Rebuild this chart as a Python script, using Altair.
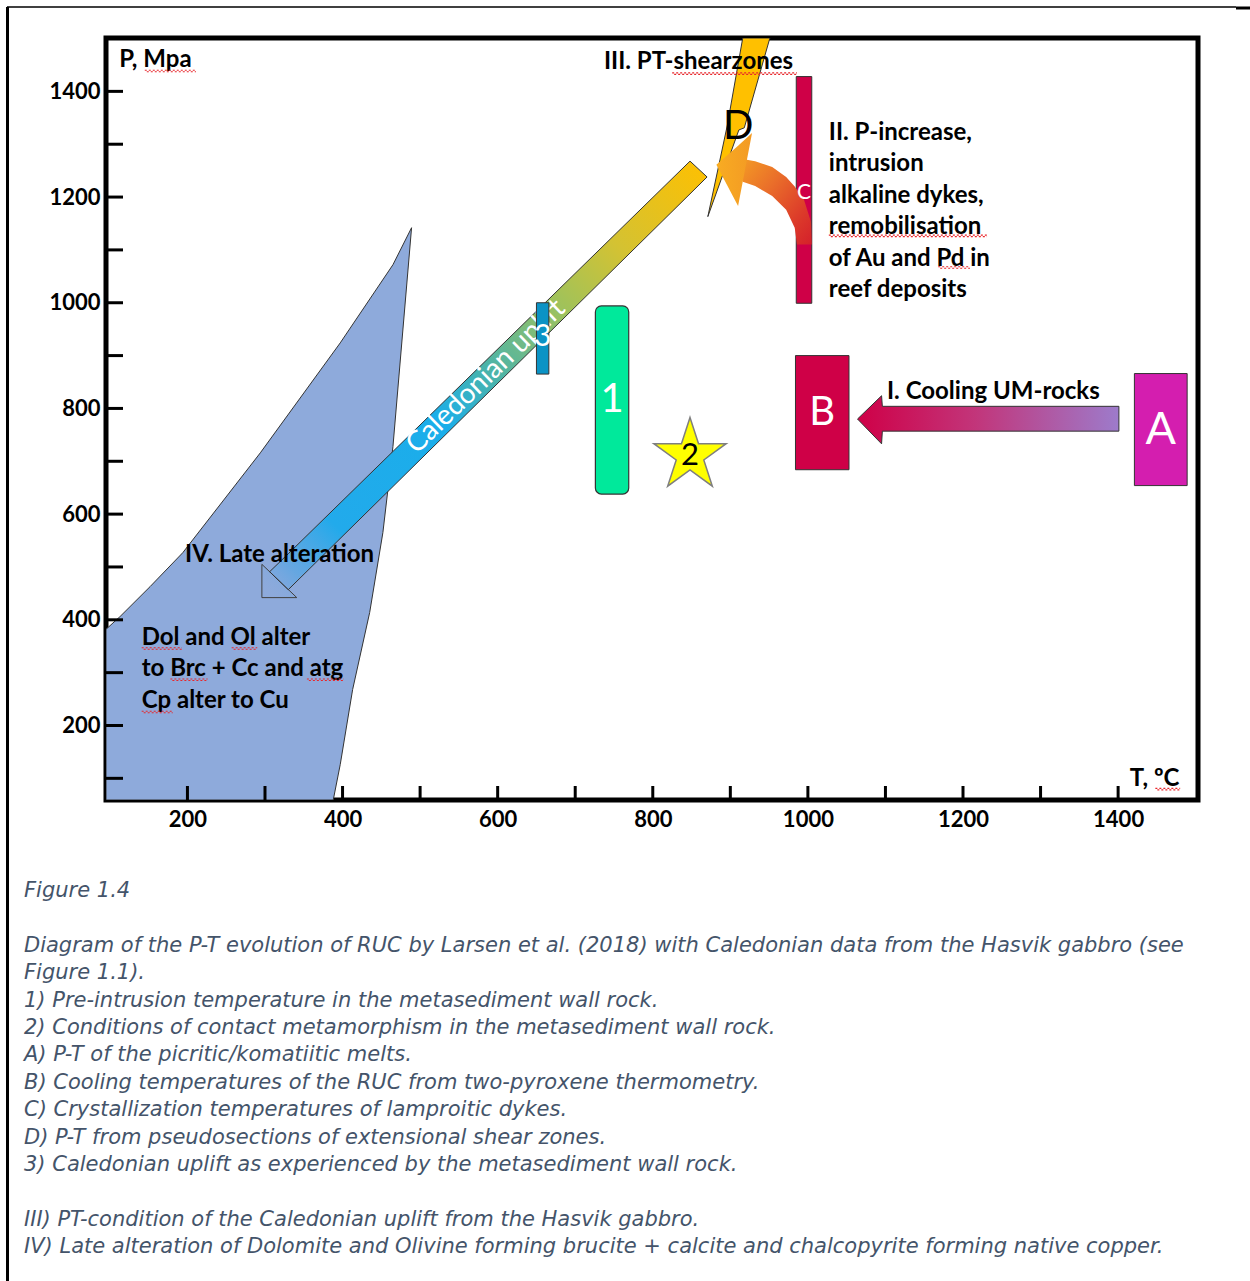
import altair as alt
import pandas as pd

# ---- axes: temperature (degC) and pressure (MPa) ----
T_DOMAIN = [95, 1503]
P_DOMAIN = [59, 1501]
T_TICKS = list(range(200, 1401, 100))
P_TICKS = list(range(100, 1401, 100))
T_LABELS = list(range(200, 1401, 200))
P_LABELS = list(range(200, 1401, 200))

# ---- IV: late alteration field (outline) ----
alter_T = [489, 465, 397, 294, 194, 152, 113, 95, 95, 388, 397, 413, 435, 452, 465, 489]
alter_P = [1142, 1072, 924, 716, 527, 463, 406, 382, 59, 59, 126, 268, 414, 565, 728, 1142]

# ---- 3: Caledonian uplift arrow: shaft (T, lower P, upper P) and head ----
shaft_T = [306, 330, 848, 870]
shaft_lo = [491, 457, 1206, 1238]
shaft_hi = [491, 525, 1268, 1238]
head_T = [296, 341]
head_lo = [442, 442]
head_hi = [505, 442]

# ---- I: cooling arrow from A to B ----
cool_T = [1064, 1095, 1096, 1401]
cool_lo = [780, 733, 757, 757]
cool_hi = [780, 824, 804, 804]

# ---- II: pressure-increase arrow rising off C: body and head ----
rise_T = [916, 932, 954, 972, 983, 986, 995, 1004, 1005]
rise_lo = [1229, 1221, 1202, 1176, 1142, 1110, 1110, 1110, 1110]
rise_hi = [1272, 1268, 1257, 1238, 1220, 1214, 1195, 1153, 1110]
rhead_T = [882, 910, 928]
rhead_lo = [1261, 1183, 1321]
rhead_hi = [1261, 1297, 1321]

# ---- III: shear-zone bolt D (outline) ----
bolt_T = [916, 951, 918, 911, 871, 896, 916]
bolt_P = [1501, 1501, 1331, 1327, 1163, 1335, 1501]

# ---- boxes ----
box_T1 = [650, 984, 1421, 985]
box_T2 = [666, 1053, 1489, 1005]
box_P1 = [865, 684, 654, 999]
box_P2 = [1000, 900, 866, 1428]
box_colors = ["#0B93C5", "#CF0047", "#D41EAF", "#CF0047"]

box1_T = [726, 769]
box1_P = [638, 994]

star_T = [848]
star_P = [711]
# five-pointed star symbol in the unit box
STAR_PATH = ("M0,-1L0.2245,-0.309L0.9511,-0.309L0.3633,0.118L0.5878,0.809L0,0.382"
             "L-0.5878,0.809L-0.3633,0.118L-0.9511,-0.309L-0.2245,-0.309Z")

# ---- letters in the boxes ----
tag_text = ["3", "1", "B", "A", "C", "D", "2"]
tag_T = [658, 747.5, 1018.5, 1455, 995, 910, 848]
tag_P = [936, 816, 792, 760, 1208, 1333, 710]
tag_size = [30, 40, 40, 45, 21, 40, 31]
tag_color = ["white", "white", "white", "white", "white", "black", "black"]

# ---- bold annotations ----
note_text = [
    "P, Mpa",
    "III. PT-shearzones",
    "II. P-increase,\nintrusion\nalkaline dykes,\nremobilisation\nof Au and Pd in\nreef deposits",
    "IV. Late alteration",
    "Dol and Ol alter\nto Brc + Cc and atg\nCp alter to Cu",
    "T, \u00baC",
    "I. Cooling UM-rocks",
]
note_T = [112, 737, 1027, 197, 141, 1415, 1102]
note_P = [1447, 1442, 1308, 510, 353, 85, 817]

# wavy spell-check underlines under some words (Mpa, shearzones, remobilisation,
# Pd, Dol, Ol, Brc, atg, Cp, ºC)
wavy_T1 = [145, 825, 1027, 1168, 141, 257, 178, 354, 141, 1448]
wavy_T2 = [211, 986, 1231, 1209, 193, 290, 226, 401, 181, 1480]
wavy_P = [1440, 1435, 1128, 1068, 347, 347, 288, 288, 227, 81]

uplift_label = ["Caledonian uplift"]
uplift_label_T = [585]
uplift_label_P = [860]

caption_head = ["Figure 1.4"]
caption_body = [
    "Diagram of the P-T evolution of RUC by Larsen et al. (2018) with Caledonian data from the Hasvik gabbro (see",
    "Figure 1.1).",
    "1) Pre-intrusion temperature in the metasediment wall rock.",
    "2) Conditions of contact metamorphism in the metasediment wall rock.",
    "A) P-T of the picritic/komatiitic melts.",
    "B) Cooling temperatures of the RUC from two-pyroxene thermometry.",
    "C) Crystallization temperatures of lamproitic dykes.",
    "D) P-T from pseudosections of extensional shear zones.",
    "3) Caledonian uplift as experienced by the metasediment wall rock.",
]
caption_tail = [
    "III) PT-condition of the Caledonian uplift from the Hasvik gabbro.",
    "IV) Late alteration of Dolomite and Olivine forming brucite + calcite and chalcopyrite forming native copper.",
]

W, H = 1092, 762
BOLD = "Lato"
LINE = 27.4  # caption line spacing, px

xscale = alt.Scale(domain=T_DOMAIN, nice=False, zero=False)
yscale = alt.Scale(domain=P_DOMAIN, nice=False, zero=False)
xaxis = alt.Axis(values=T_LABELS, format="d", ticks=False, domain=False, grid=False, title=None,
                 labelFont=BOLD, labelFontWeight="bold", labelFontSize=22,
                 labelColor="black", labelPadding=9, labelFlush=False)
yaxis = alt.Axis(values=P_LABELS, format="d", ticks=False, domain=False, grid=False, title=None,
                 labelFont=BOLD, labelFontWeight="bold", labelFontSize=22,
                 labelColor="black", labelPadding=6, labelFlush=False)


def X(f="T"):
    return alt.X(f"{f}:Q", scale=xscale, axis=xaxis)


def Y(f="P"):
    return alt.Y(f"{f}:Q", scale=yscale, axis=yaxis)


def outline(T, P, **mark):
    df = pd.DataFrame({"T": T, "P": P, "i": list(range(len(T)))})
    return alt.Chart(df).mark_line(clip=True, **mark).encode(x=X(), y=Y(), order="i:Q")


def band(T, lo, hi, **mark):
    df = pd.DataFrame({"T": T, "lo": lo, "hi": hi})
    return alt.Chart(df).mark_area(clip=True, **mark).encode(x=X(), y=Y("lo"), y2="hi:Q")


def grad(stops, x1, y1, x2, y2):
    return alt.LinearGradient(
        gradient="linear",
        stops=[alt.GradientStop(color=c, offset=o) for o, c in stops],
        x1=x1, y1=y1, x2=x2, y2=y2,
    )


def caption_block(lines, first_line):
    df = pd.DataFrame({"t": ["\n".join(lines)]})
    return alt.Chart(df).mark_text(
        font="DejaVu Sans", fontStyle="italic", fontSize=21, fill="#44546A",
        align="left", baseline="alphabetic", lineBreak="\n", lineHeight=LINE
    ).encode(text="t:N", x=alt.value(-82), y=alt.value(859 + first_line * LINE))


alter = outline(alter_T, alter_P, fill="#8EAADB", stroke="#333333", strokeWidth=1)

uplift_head = band(
    head_T, head_lo, head_hi,
    fill=grad([(0.0, "rgba(60,165,230,0.35)"), (1.0, "rgba(140,170,220,0.0)")], 1, 0, 0, 1),
    stroke="#404040", strokeWidth=1,
)
uplift_shaft = band(
    shaft_T, shaft_lo, shaft_hi,
    fill=grad([(0.0, "#FFC000"), (0.2, "#D4C232"), (0.34, "#9EC25C"), (0.49, "#4CB4A8"),
               (0.61, "#1AAEEA"), (0.85, "#22AAEB"), (0.95, "rgba(80,165,228,0.65)"),
               (1.0, "rgba(120,165,225,0.4)")], 1, 0, 0, 1),
    stroke="#333333", strokeWidth=1,
)

cool = band(
    cool_T, cool_lo, cool_hi,
    fill=grad([(0.0, "#CF0047"), (0.45, "#C2357A"), (1.0, "#9D7BCB")], 0, 0, 1, 0),
    stroke="#333333", strokeWidth=1,
)

rise_head = band(
    rhead_T, rhead_lo, rhead_hi,
    fill=grad([(0.0, "#F8AC22"), (1.0, "#F39A24")], 0, 0, 1, 0),
)
rise_body = band(
    rise_T, rise_lo, rise_hi,
    fill=grad([(0.0, "#F39A24"), (0.35, "#EA6F2A"), (0.75, "#DC3A2A"), (1.0, "#D4202B")], 0, 0, 1, 1),
)

bolt = outline(bolt_T, bolt_P, fill="#FFC000", stroke="#333333", strokeWidth=1)

boxes_df = pd.DataFrame({"T1": box_T1, "T2": box_T2, "P1": box_P1, "P2": box_P2,
                         "col": box_colors})
boxes = alt.Chart(boxes_df).mark_rect(stroke="#333333", strokeWidth=1, opacity=1).encode(
    x=X("T1"), x2="T2:Q", y=Y("P1"), y2="P2:Q",
    fill=alt.Fill("col:N", scale=None),
)

box1 = alt.Chart(pd.DataFrame({"T1": [box1_T[0]], "T2": [box1_T[1]],
                               "P1": [box1_P[0]], "P2": [box1_P[1]]})).mark_rect(
    fill="#00E99B", stroke="#333333", strokeWidth=1.2, cornerRadius=6
).encode(x=X("T1"), x2="T2:Q", y=Y("P1"), y2="P2:Q")

star = alt.Chart(pd.DataFrame({"T": star_T, "P": star_P})).mark_point(
    shape=STAR_PATH, filled=True, fill="#FFFF00", stroke="#7F7F7F", strokeWidth=1.5,
    size=5776, opacity=1
).encode(x=X(), y=Y())

tags = alt.Chart(pd.DataFrame({"T": tag_T, "P": tag_P, "t": tag_text,
                               "fs": tag_size, "c": tag_color})).mark_text(
    font="Lato", align="center", baseline="middle"
).encode(x=X(), y=Y(), text="t:N",
         size=alt.Size("fs:Q", scale=None), fill=alt.Fill("c:N", scale=None))

notes = alt.Chart(pd.DataFrame({"T": note_T, "P": note_P, "t": note_text})).mark_text(
    font=BOLD, fontWeight="bold", fontSize=24, align="left", baseline="alphabetic",
    lineBreak="\n", lineHeight=31.5, fill="black"
).encode(x=X(), y=Y(), text="t:N")

# a wavy underline: two interleaved dashed strokes, one pixel apart
wavy_df = pd.DataFrame({"T1": wavy_T1, "T2": wavy_T2, "P": wavy_P})
wavy_a = alt.Chart(wavy_df).mark_rule(
    color="#E8262B", strokeWidth=1.1, strokeDash=[2, 2]
).encode(x=X("T1"), x2="T2:Q", y=Y("P"))
wavy_b = alt.Chart(wavy_df).mark_rule(
    color="#E8262B", strokeWidth=1.1, strokeDash=[2, 2], strokeDashOffset=2, yOffset=1.5
).encode(x=X("T1"), x2="T2:Q", y=Y("P"))

uplift_txt = alt.Chart(pd.DataFrame({"T": uplift_label_T, "P": uplift_label_P,
                                     "t": uplift_label})).mark_text(
    font="Lato", fontSize=28, align="center", baseline="middle", angle=316, fill="white"
).encode(x=X(), y=Y(), text="t:N")

xticks = alt.Chart(pd.DataFrame({"T": T_TICKS})).mark_rule(color="black", strokeWidth=3).encode(
    x=X(), y=alt.value(H), y2=alt.value(H - 14))
yticks = alt.Chart(pd.DataFrame({"P": P_TICKS})).mark_rule(color="black", strokeWidth=3).encode(
    y=Y(), x=alt.value(0), x2=alt.value(17))

cap1 = caption_block(caption_head, 0)
cap2 = caption_block(caption_body, 2)
cap3 = caption_block(caption_tail, 12)

frame_top = alt.Chart(pd.DataFrame({"a": [0]})).mark_rule(color="black", strokeWidth=1.5).encode(
    x=alt.value(-99), x2=alt.value(1130), y=alt.value(-31))
frame_top_end = alt.Chart(pd.DataFrame({"a": [0]})).mark_rule(color="black", strokeWidth=3).encode(
    x=alt.value(1130), x2=alt.value(1144), y=alt.value(-30))
frame_left = alt.Chart(pd.DataFrame({"a": [0]})).mark_rule(color="black", strokeWidth=3).encode(
    x=alt.value(-98.5), y=alt.value(-31), y2=alt.value(1243))

chart = alt.layer(
    alter, xticks, yticks, uplift_head, uplift_shaft, uplift_txt, boxes, box1, cool, bolt,
    rise_body, rise_head, star, tags, notes, wavy_a, wavy_b, cap1, cap2, cap3,
    frame_top, frame_top_end, frame_left,
).properties(
    width=W, height=H,
    padding={"left": 106, "top": 38, "right": 52, "bottom": 481},
    autosize=alt.AutoSizeParams(type="none"),
    background="white",
).configure_view(stroke="black", strokeWidth=5)

chart.save("out.html", embed_options={"renderer": "svg", "actions": False})
